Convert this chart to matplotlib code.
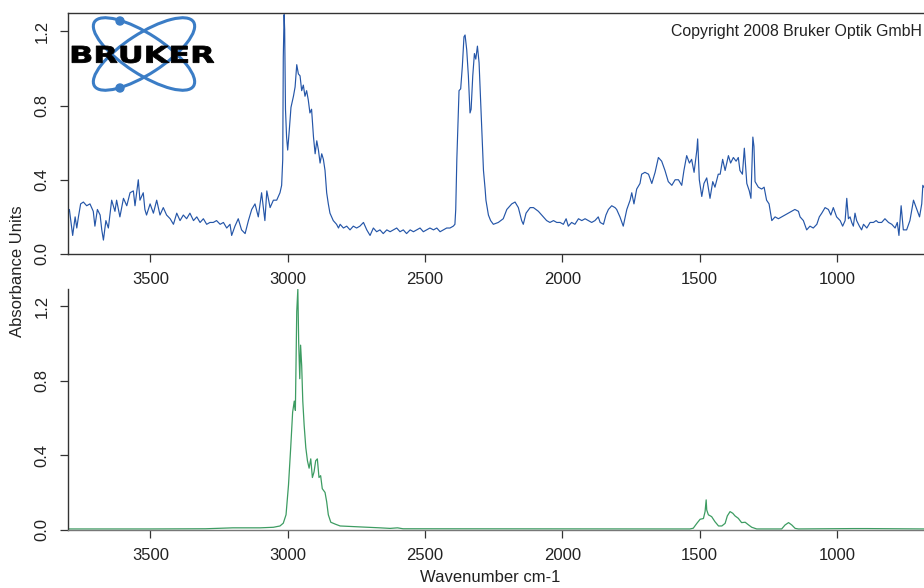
import matplotlib
matplotlib.use("Agg")
from matplotlib import pyplot as plt
from matplotlib.patches import Ellipse, Circle, PathPatch
from matplotlib.textpath import TextPath
from matplotlib.font_manager import FontProperties
from matplotlib.transforms import Affine2D

plt.rcParams["font.family"] = ["Liberation Sans", "DejaVu Sans"]
plt.rcParams["font.size"] = 12

# sample spectrum (top), wavenumber / absorbance
top_wn = [3800, 3795, 3783, 3774, 3768, 3762, 3754, 3744, 3732, 3720, 3708, 3702, 3693, 3683, 3677, 3671,
          3662, 3653, 3641, 3629, 3623, 3611, 3598, 3586, 3574, 3562, 3556, 3544, 3538, 3526, 3520, 3514,
          3501, 3489, 3477, 3465, 3453, 3441, 3428, 3416, 3404, 3392, 3380, 3368, 3356, 3343, 3331, 3319,
          3307, 3295, 3283, 3271, 3259, 3246, 3234, 3222, 3210, 3204, 3192, 3180, 3168, 3155, 3143, 3131,
          3119, 3107, 3095, 3083, 3076, 3064, 3052, 3040, 3028, 3022, 3018, 3016, 3013, 3011, 3008, 3004,
          3000, 2994, 2988, 2979, 2973, 2967, 2961, 2955, 2949, 2943, 2937, 2931, 2925, 2919, 2913, 2906,
          2900, 2894, 2888, 2882, 2876, 2870, 2864, 2858, 2852, 2846, 2834, 2822, 2815, 2809, 2797, 2785,
          2773, 2761, 2749, 2737, 2724, 2712, 2700, 2688, 2676, 2664, 2652, 2639, 2627, 2615, 2603, 2591,
          2579, 2567, 2554, 2542, 2530, 2518, 2506, 2494, 2482, 2469, 2457, 2445, 2433, 2421, 2409, 2397,
          2391, 2388, 2384, 2380, 2376, 2370, 2364, 2358, 2354, 2348, 2342, 2336, 2332, 2326, 2320, 2315,
          2309, 2303, 2297, 2290, 2287, 2281, 2278, 2269, 2261, 2251, 2233, 2215, 2202, 2184, 2172, 2160,
          2148, 2142, 2132, 2117, 2105, 2087, 2069, 2057, 2045, 2032, 2020, 2008, 1996, 1986, 1978, 1966,
          1954, 1941, 1929, 1917, 1905, 1893, 1881, 1869, 1862, 1850, 1841, 1832, 1820, 1808, 1802, 1790,
          1778, 1765, 1753, 1747, 1739, 1729, 1717, 1711, 1699, 1686, 1674, 1662, 1650, 1638, 1626, 1614,
          1601, 1589, 1577, 1565, 1557, 1547, 1537, 1529, 1520, 1510, 1507, 1501, 1492, 1484, 1474, 1462,
          1452, 1444, 1432, 1425, 1416, 1407, 1395, 1387, 1377, 1367, 1359, 1353, 1344, 1337, 1328, 1319,
          1313, 1306, 1302, 1298, 1286, 1274, 1265, 1256, 1247, 1237, 1225, 1213, 1201, 1189, 1177, 1165,
          1153, 1140, 1134, 1122, 1110, 1098, 1086, 1073, 1064, 1055, 1043, 1031, 1022, 1013, 1001, 988,
          979, 970, 964, 958, 952, 946, 940, 934, 928, 918, 910, 903, 891, 879, 867, 857,
          849, 837, 825, 812, 800, 788, 780, 774, 766, 758, 746, 734, 721, 709, 699, 691,
          687, 683]
top_abs = [0.22, 0.24, 0.10, 0.20, 0.14, 0.20, 0.27, 0.28, 0.26, 0.27, 0.23, 0.15, 0.24, 0.21, 0.13, 0.075,
           0.18, 0.14, 0.29, 0.23, 0.29, 0.20, 0.30, 0.26, 0.33, 0.34, 0.26, 0.40, 0.29, 0.33, 0.24, 0.21,
           0.27, 0.22, 0.29, 0.21, 0.25, 0.21, 0.19, 0.16, 0.22, 0.18, 0.21, 0.19, 0.22, 0.18, 0.20, 0.17,
           0.19, 0.16, 0.17, 0.17, 0.18, 0.16, 0.17, 0.14, 0.16, 0.10, 0.15, 0.19, 0.13, 0.11, 0.18, 0.24,
           0.27, 0.20, 0.33, 0.18, 0.34, 0.25, 0.29, 0.29, 0.33, 0.37, 0.51, 1.06, 1.29, 1.21, 0.78, 0.63,
           0.56, 0.67, 0.79, 0.85, 0.90, 1.02, 0.97, 0.96, 0.88, 0.91, 0.85, 0.88, 0.83, 0.76, 0.78, 0.63,
           0.54, 0.61, 0.56, 0.49, 0.54, 0.51, 0.45, 0.33, 0.27, 0.22, 0.18, 0.16, 0.14, 0.16, 0.14, 0.15,
           0.13, 0.15, 0.14, 0.15, 0.17, 0.13, 0.10, 0.14, 0.12, 0.13, 0.11, 0.13, 0.12, 0.13, 0.14, 0.12,
           0.13, 0.11, 0.13, 0.12, 0.13, 0.14, 0.12, 0.13, 0.14, 0.13, 0.14, 0.12, 0.13, 0.14, 0.14, 0.15,
           0.16, 0.24, 0.51, 0.69, 0.88, 0.89, 1.01, 1.17, 1.18, 1.10, 0.96, 0.76, 0.78, 0.96, 1.08, 1.05,
           1.12, 1.03, 0.81, 0.54, 0.45, 0.35, 0.29, 0.21, 0.18, 0.16, 0.17, 0.19, 0.24, 0.27, 0.28, 0.25,
           0.18, 0.16, 0.22, 0.25, 0.25, 0.23, 0.20, 0.18, 0.17, 0.18, 0.17, 0.17, 0.16, 0.19, 0.15, 0.17,
           0.16, 0.19, 0.18, 0.19, 0.18, 0.17, 0.18, 0.20, 0.17, 0.16, 0.21, 0.24, 0.26, 0.25, 0.24, 0.20,
           0.15, 0.24, 0.29, 0.33, 0.27, 0.35, 0.38, 0.43, 0.44, 0.43, 0.38, 0.44, 0.52, 0.50, 0.45, 0.39,
           0.37, 0.40, 0.40, 0.37, 0.45, 0.53, 0.49, 0.51, 0.44, 0.56, 0.62, 0.40, 0.31, 0.38, 0.41, 0.30,
           0.39, 0.36, 0.43, 0.43, 0.51, 0.45, 0.53, 0.49, 0.52, 0.50, 0.52, 0.45, 0.43, 0.57, 0.38, 0.34,
           0.30, 0.63, 0.58, 0.39, 0.36, 0.35, 0.36, 0.29, 0.27, 0.18, 0.20, 0.19, 0.20, 0.21, 0.22, 0.23,
           0.24, 0.23, 0.20, 0.18, 0.13, 0.15, 0.14, 0.16, 0.20, 0.22, 0.25, 0.24, 0.21, 0.25, 0.20, 0.18,
           0.15, 0.18, 0.30, 0.19, 0.20, 0.17, 0.15, 0.22, 0.18, 0.15, 0.13, 0.16, 0.14, 0.17, 0.17, 0.18,
           0.17, 0.17, 0.19, 0.17, 0.16, 0.14, 0.17, 0.10, 0.26, 0.13, 0.13, 0.18, 0.29, 0.24, 0.20, 0.27,
           0.37, 0.36]

# reference spectrum (bottom)
bot_wn = [3800, 3500, 3300, 3200, 3100, 3052, 3028, 3016, 3006, 2997, 2989, 2982, 2976, 2972, 2970, 2967,
          2963, 2960, 2956, 2953, 2949, 2945, 2940, 2934, 2928, 2922, 2916, 2910, 2904, 2898, 2892, 2886,
          2880, 2874, 2864, 2858, 2852, 2843, 2827, 2809, 2737, 2664, 2627, 2600, 2580, 1600, 1535, 1523,
          1510, 1498, 1486, 1480, 1476, 1474, 1468, 1456, 1444, 1431, 1419, 1407, 1399, 1389, 1379, 1371,
          1359, 1347, 1334, 1322, 1310, 1292, 1201, 1189, 1176, 1164, 1152, 1140, 940, 890, 683]
bot_abs = [0.004, 0.004, 0.005, 0.010, 0.010, 0.013, 0.020, 0.035, 0.08, 0.24, 0.44, 0.63, 0.69, 0.64, 0.85, 1.17,
           1.29, 1.01, 0.81, 0.99, 0.88, 0.69, 0.56, 0.44, 0.37, 0.33, 0.38, 0.28, 0.31, 0.37, 0.38, 0.28,
           0.29, 0.22, 0.20, 0.15, 0.08, 0.04, 0.03, 0.02, 0.015, 0.010, 0.007, 0.010, 0.005, 0.004, 0.004, 0.008,
           0.034, 0.056, 0.060, 0.097, 0.16, 0.106, 0.08, 0.07, 0.043, 0.020, 0.020, 0.034, 0.074, 0.097, 0.088, 0.074,
           0.061, 0.038, 0.040, 0.026, 0.013, 0.004, 0.004, 0.025, 0.038, 0.025, 0.007, 0.004, 0.006, 0.006, 0.004]

x_ticks = [3500, 3000, 2500, 2000, 1500, 1000]
y_ticks = [0.0, 0.4, 0.8, 1.2]
y_ticklabels = ["0.0", "0.4", "0.8", "1.2"]

W, H = 924, 588
AXC = "#333333"


def px_rect(x0, y0, x1, y1):
    return [x0 / W, 1 - y1 / H, (x1 - x0) / W, (y1 - y0) / H]


fig = plt.figure(figsize=(W / 100, H / 100), dpi=100)

px_per_wn = 137.3 / 500
ax_left, ax_right = 68, 940
x_lo = 3800
x_hi = x_lo - (ax_right - ax_left) / px_per_wn

axT = fig.add_axes(px_rect(ax_left, 13.3, ax_right, 254))
axB = fig.add_axes(px_rect(ax_left, 289.3, ax_right, 529.7))

axT.plot(top_wn, top_abs, color="#2556a8", lw=0.85)
axB.plot(bot_wn, bot_abs, color="#3d9c62", lw=0.9)

axT.set_ylim(0, (254 - 13.3) / 185.6)
axB.set_ylim(0, (529.7 - 289.3) / 186.4)

for ax in (axT, axB):
    ax.set_xlim(x_lo, x_hi)
    ax.set_xticks(x_ticks)
    ax.set_yticks(y_ticks)
    ax.set_yticklabels(y_ticklabels, rotation=90, va="center")
    ax.tick_params(direction="out", length=5.8, width=0.9, pad=7.5,
                   colors=AXC, labelcolor="#222222", labelsize=12)
    for s in ax.spines.values():
        s.set_color(AXC)
        s.set_linewidth(1.0)

axB.spines["top"].set_visible(False)
axB.spines["right"].set_visible(False)
axB.spines["bottom"].set_color("#777777")

fig.text(18 / W, 1 - 271 / H, "Absorbance Units", rotation=90,
         ha="center", va="center", color="#222222", fontsize=12)
fig.text(490 / W, 1 - 578 / H, "Wavenumber cm-1",
         ha="center", va="center", color="#222222", fontsize=12)
fig.text(671 / W, 1 - 36 / H, "Copyright 2008 Bruker Optik GmbH",
         ha="left", va="baseline", color="#222222", fontsize=11.4)

# logo, drawn in pixel units
lg = fig.add_axes(px_rect(60, 10, 222, 100))
lg.set_xlim(60, 222)
lg.set_ylim(100, 10)
lg.axis("off")
blue = "#3b7dc6"
for ang in (33, -33):
    lg.add_patch(Ellipse((144, 54), 118, 40, angle=ang, fill=False,
                         edgecolor=blue, lw=2.2))
lg.add_patch(Circle((120, 21), 4, color=blue))
lg.add_patch(Circle((120, 88), 4, color=blue))

tp = TextPath((0, 0), "BRUKER", prop=FontProperties(family="DejaVu Sans", weight="bold"))
ext = tp.get_extents()
tx0, tx1, ty0, ty1 = 72, 214, 46, 63
tr = (Affine2D().translate(-ext.x0, -ext.y0)
      .scale((tx1 - tx0) / ext.width, -(ty1 - ty0) / ext.height)
      .translate(tx0, ty1))
lg.add_patch(PathPatch(tr.transform_path(tp), facecolor="black", edgecolor="black", lw=0.6))

fig.savefig("out.png", dpi=100)
